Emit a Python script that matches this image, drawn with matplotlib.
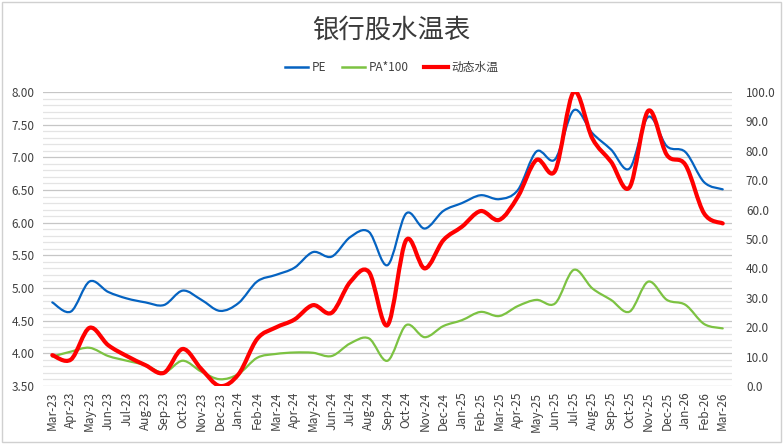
import numpy as np
import matplotlib.pyplot as plt
from matplotlib.path import Path
from matplotlib.patches import PathPatch, Rectangle
from matplotlib.lines import Line2D
from matplotlib.ticker import MultipleLocator, FormatStrFormatter

plt.rcParams['font.family'] = ['Noto Sans CJK SC', 'DejaVu Sans']

months = ['Mar-23', 'Apr-23', 'May-23', 'Jun-23', 'Jul-23', 'Aug-23', 'Sep-23', 'Oct-23',
          'Nov-23', 'Dec-23', 'Jan-24', 'Feb-24', 'Mar-24', 'Apr-24', 'May-24', 'Jun-24',
          'Jul-24', 'Aug-24', 'Sep-24', 'Oct-24', 'Nov-24', 'Dec-24', 'Jan-25', 'Feb-25',
          'Mar-25', 'Apr-25', 'May-25', 'Jun-25', 'Jul-25', 'Aug-25', 'Sep-25', 'Oct-25',
          'Nov-25', 'Dec-25', 'Jan-26', 'Feb-26', 'Mar-26']

pe = [4.78, 4.64, 5.10, 4.94, 4.84, 4.78, 4.74, 4.96, 4.82, 4.65, 4.77, 5.10,
      5.20, 5.31, 5.55, 5.48, 5.78, 5.86, 5.35, 6.14, 5.91, 6.18, 6.30, 6.42,
      6.36, 6.50, 7.09, 6.97, 7.72, 7.37, 7.12, 6.83, 7.62, 7.17, 7.08, 6.62, 6.51]

pa100 = [10.0, 11.7, 13.0, 10.2, 8.6, 7.1, 4.6, 8.6, 4.9, 2.3, 4.1, 9.6,
         10.9, 11.4, 11.3, 10.2, 14.5, 16.2, 8.6, 20.7, 16.6, 20.4, 22.4, 25.2,
         23.8, 27.2, 29.3, 28.1, 39.5, 33.2, 29.3, 25.3, 35.5, 29.3, 27.6, 21.1, 19.6]

water = [10.5, 9.0, 19.8, 13.9, 10.2, 7.1, 4.5, 12.6, 5.8, 0.0, 4.0, 16.0,
         19.9, 22.6, 27.5, 24.9, 35.4, 38.8, 20.7, 49.6, 40.0, 49.6, 54.2, 59.5,
         56.5, 64.4, 76.9, 73.2, 100.0, 84.2, 76.3, 67.6, 93.6, 78.6, 75.2, 58.7, 55.3]


def smooth_path(xs, ys):
    # Excel-like smoothed line: cubic bezier segments (catmull-rom style)
    pts = np.column_stack([xs, ys]).astype(float)
    n = len(pts)
    verts = [pts[0]]
    codes = [Path.MOVETO]
    for i in range(n - 1):
        p0 = pts[i - 1] if i > 0 else pts[i]
        p1 = pts[i]
        p2 = pts[i + 1]
        p3 = pts[i + 2] if i + 2 < n else pts[i + 1]
        c1 = p1 + (p2 - p0) / 6.0
        c2 = p2 - (p3 - p1) / 6.0
        verts += [c1, c2, p2]
        codes += [Path.CURVE4] * 3
    return Path(verts, codes)


x = np.arange(len(months))

fig = plt.figure(figsize=(7.83, 4.44), dpi=100)
fig.patches.append(Rectangle((0.003, 0.004), 0.994, 0.992, transform=fig.transFigure,
                             fill=False, edgecolor='#d0d0d0', lw=1))

ax = fig.add_axes([0.0549, 0.1306, 0.880, 0.6622])
ax2 = ax.twinx()

ax.set_xlim(-0.5, len(months) - 0.5)
ax.set_ylim(3.5, 8.0)
ax2.set_ylim(0, 100)

ax.yaxis.set_major_locator(MultipleLocator(0.5))
ax.yaxis.set_minor_locator(MultipleLocator(0.1))
ax.yaxis.set_major_formatter(FormatStrFormatter('%.2f'))
ax2.yaxis.set_major_locator(MultipleLocator(10))
ax2.yaxis.set_major_formatter(FormatStrFormatter('%.1f'))

ax.grid(which='major', axis='y', color='#c6c6c6', lw=0.9)
ax.grid(which='minor', axis='y', color='#e4e4e4', lw=0.9)
ax.set_axisbelow(True)

for a in (ax, ax2):
    for s in a.spines.values():
        s.set_visible(False)

ax.set_xticks(x)
ax.set_xticklabels(months, rotation=90, fontsize=8.5, color='#404040')
ax.tick_params(axis='x', length=0, pad=4)
ax.tick_params(axis='y', which='both', length=0, labelsize=8.5, labelcolor='#404040', pad=6)
ax2.tick_params(axis='y', length=0, labelsize=8.5, labelcolor='#404040', pad=10)

ax.add_patch(PathPatch(smooth_path(x, pe), fill=False, edgecolor='#0563C1', lw=1.6,
                       capstyle='round', joinstyle='round'))
ax2.add_patch(PathPatch(smooth_path(x, pa100), fill=False, edgecolor='#7CC242', lw=1.6,
                        capstyle='round', joinstyle='round'))
ax2.add_patch(PathPatch(smooth_path(x, water), fill=False, edgecolor='#FF0000', lw=3.0,
                        capstyle='round', joinstyle='round'))

fig.text(0.5, 0.933, '银行股水温表', ha='center', va='center', fontsize=19,
         fontweight='light', color='#3a3a3a')

handles = [Line2D([], [], color='#0563C1', lw=1.8),
           Line2D([], [], color='#7CC242', lw=1.8),
           Line2D([], [], color='#FF0000', lw=3.0)]
fig.legend(handles, ['PE', 'PA*100', '动态水温'], loc='center', bbox_to_anchor=(0.5, 0.848),
           ncol=3, frameon=False, fontsize=8.5, handlelength=2.0, handletextpad=0.3,
           columnspacing=1.3, labelcolor='#404040')

fig.savefig('out.png', dpi=100)
